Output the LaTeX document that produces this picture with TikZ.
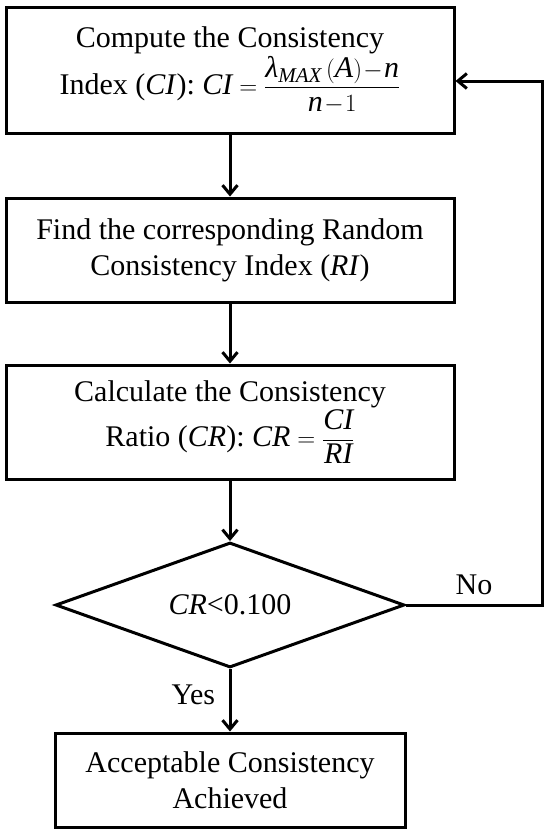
\documentclass[tikz,border=0pt]{standalone}
\usepackage{amsmath}
\usepackage{fontspec}
\setmainfont{Liberation Serif}
\usetikzlibrary{arrows.meta,positioning,shapes.geometric}

\begin{document}
\begin{tikzpicture}[x=1pt, y=-1pt,
    font=\fontsize{30}{36}\selectfont,
    box/.style={draw, line width=3pt, align=center, inner sep=0pt, minimum width=448pt},
    decision/.style={draw, diamond, aspect=2.8, line width=3pt, inner sep=0pt, minimum width=349pt, minimum height=125pt},
    arr/.style={-{Straight Barb[length=9pt, width=15pt]}, line width=3pt},
]
\useasboundingbox (0,0) rectangle (550,833);
% Steps of the consistency check
% 1. Consistency index
\node[box, minimum height=126pt] (ci) at (230,70) {Compute the Consistency\\[1pt]
    Index (\textit{CI}): $\textit{CI}=\dfrac{\textit{λ}_{\textit{MAX}}\,(\textit{A})\!-\!\textit{n}}{\textit{n}\!-\!1}$};

% 2. Random index
\node[box, minimum height=104pt] (ri) at (230,250) {Find the corresponding Random\\Consistency Index (\textit{RI})};

% 3. Consistency ratio
\node[box, minimum height=114pt] (cr) at (230,422) {Calculate the Consistency\\[1pt]
    Ratio (\textit{CR}): $\textit{CR}=\dfrac{\textit{CI}}{\textit{RI}}$};

% 4. Test
\node[decision] (test) at (230,605) {\textit{CR}<0.100};

% 5. Result
\node[box, minimum width=350pt, minimum height=94pt] (ok) at (230,780) {Acceptable Consistency\\Achieved};

\coordinate (back) at (542,81);

% Connectors
\draw[arr] (ci.south) -- (ri.north);
\draw[arr] (ri.south) -- (cr.north);
\draw[arr] (cr.south) -- (test.north);
\draw[arr] (test.south) -- node[pos=0.42, left=10pt] {Yes} (ok.north);
\draw[arr] (test.east) -| node[pos=0.25, above=5pt] {No} (back) -- (back -| ci.east);
\end{tikzpicture}
\end{document}
